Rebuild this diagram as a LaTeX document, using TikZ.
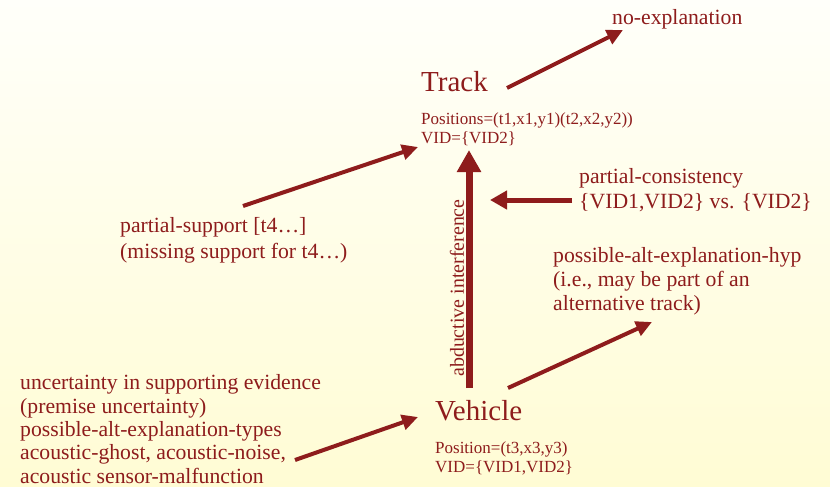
\documentclass[tikz,border=0pt]{standalone}
\usepackage{fontspec}
\setmainfont{Liberation Serif}
\usetikzlibrary{arrows.meta}

\definecolor{darkred}{RGB}{142,28,28}
\definecolor{paletop}{RGB}{255,255,250}
\definecolor{palebottom}{RGB}{255,252,212}

\tikzset{
  txt/.style={text=darkred, inner sep=0pt, anchor=base west, align=left},
  big/.style={txt, font=\fontsize{29}{31}\selectfont},
  mid/.style={txt, font=\fontsize{21.7}{25}\selectfont},
  small/.style={txt, font=\fontsize{17}{18.5}\selectfont},
  link/.style={draw=darkred, line width=4pt, -{Triangle[length=16pt,width=15pt]}}
}

\begin{document}
\begin{tikzpicture}[x=1pt,y=-1pt]

    \useasboundingbox (0,0) rectangle (830,487);

    %background:
    \shade[top color=paletop, bottom color=palebottom] (0,0) rectangle (830,487);

    %the two hypotheses (multi-line texts sit on their last baseline):
    \node[big] (track) at (421,92) {Track};
    \node[small] (trackinfo) at (421,143) {Positions=(t1,x1,y1)(t2,x2,y2))\\VID=\{VID2\}};
    \node[big] (vehicle) at (435,420) {Vehicle};
    \node[small] (vehicleinfo) at (435,472) {Position=(t3,x3,y3)\\VID=\{VID1,VID2\}};

    %the explanations:
    \node[mid] (noexpl) at (612,25) {no-explanation};
    \node[mid, font=\fontsize{21.7}{25}\selectfont] (consist) at (579,208) {partial-consistency\\\{VID1,VID2\} vs. \{VID2\}};
    \node[mid, font=\fontsize{21.7}{24}\selectfont] (althyp) at (553,310) {possible-alt-explanation-hyp\\(i.e., may be part of an\\alternative track)};
    \node[mid, font=\fontsize{21.7}{26}\selectfont] (support) at (120,258) {partial-support [t4\ldots]\\(missing support for t4\ldots)};
    \node[mid, font=\fontsize{21.7}{23.3}\selectfont] (evidence) at (20,483) {uncertainty in supporting evidence\\(premise uncertainty)\\possible-alt-explanation-types\\acoustic-ghost, acoustic-noise,\\acoustic sensor-malfunction};

    %arrow ends:
    \coordinate (trackout) at (507,88);
    \coordinate (noexplin) at (623,30);
    \coordinate (supportout) at (243,206);
    \coordinate (trackin) at (418,147);
    \coordinate (consistout) at (572,200);
    \coordinate (consistin) at (490,200);
    \coordinate (vehicleout) at (508,388);
    \coordinate (althypin) at (652,322);
    \coordinate (evidenceout) at (295,460);
    \coordinate (vehiclein) at (418,417);
    \coordinate (abdstart) at (469,388);
    \coordinate (abdend) at (469,150);

    %draw arrows:
    \draw[link] (trackout) -- (noexplin);
    \draw[link] (supportout) -- (trackin);
    \draw[link] (vehicleout) -- (althypin);
    \draw[link] (evidenceout) -- (vehiclein);
    \draw[link, line width=5pt, -{Triangle[length=17pt,width=18pt]}] (consistout) -- (consistin);
    \draw[link, line width=7pt, -{Triangle[length=22pt,width=23pt]}] (abdstart) -- (abdend)
        node[pos=0.42, text=darkred, rotate=90, yshift=12pt, font=\fontsize{19.9}{22}\selectfont] (abd) {abductive interference};

\end{tikzpicture}
\end{document}
